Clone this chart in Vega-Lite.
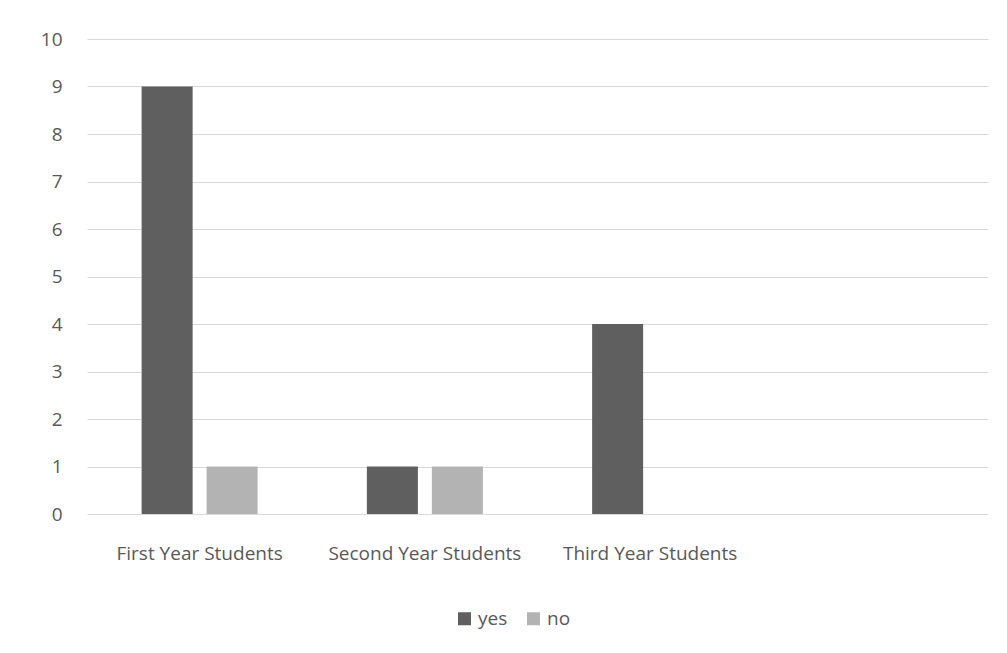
{
  "$schema": "https://vega.github.io/schema/vega-lite/v6.json",
  "width": 901,
  "height": 475,
  "autosize": {"type": "none"},
  "padding": {"left": 87, "top": 39, "right": 19, "bottom": 139},
  "background": "white",
  "data": {
    "values": [
      {"category": "First Year Students", "answer": "yes", "count": 9},
      {"category": "First Year Students", "answer": "no", "count": 1},
      {"category": "Second Year Students", "answer": "yes", "count": 1},
      {"category": "Second Year Students", "answer": "no", "count": 1},
      {"category": "Third Year Students", "answer": "yes", "count": 4},
      {"category": "Third Year Students", "answer": "no", "count": 0}
    ]
  },
  "mark": {"type": "bar"},
  "encoding": {
    "x": {
      "field": "category",
      "type": "nominal",
      "sort": null,
      "scale": {
        "domain": ["First Year Students", "Second Year Students", "Third Year Students", " "],
        "paddingInner": 0.485,
        "paddingOuter": 0.2425
      },
      "axis": {
        "title": null,
        "labelAngle": 0,
        "ticks": false,
        "domain": false,
        "labelPadding": 30,
        "labelLimit": 0,
        "labelOverlap": false,
        "labelFont": "Open Sans",
        "labelFontSize": 19,
        "labelColor": "#595959"
      }
    },
    "xOffset": {
      "field": "answer",
      "type": "nominal",
      "sort": ["yes", "no"],
      "scale": {"paddingInner": 0.215, "paddingOuter": 0}
    },
    "y": {
      "field": "count",
      "type": "quantitative",
      "scale": {"domain": [0, 10], "nice": false},
      "axis": {
        "title": null,
        "values": [0, 1, 2, 3, 4, 5, 6, 7, 8, 9, 10],
        "ticks": false,
        "domain": false,
        "grid": true,
        "gridColor": "#d9d9d9",
        "gridWidth": 1,
        "labelPadding": 25,
        "labelFont": "Open Sans",
        "labelFontSize": 19,
        "labelColor": "#595959"
      }
    },
    "color": {
      "field": "answer",
      "type": "nominal",
      "sort": ["yes", "no"],
      "scale": {"domain": ["yes", "no"], "range": ["#5f5f5f", "#b3b3b3"]},
      "legend": {
        "title": null,
        "orient": "none",
        "direction": "horizontal",
        "legendX": 368,
        "legendY": 570,
        "symbolType": "square",
        "symbolSize": 169,
        "symbolStrokeWidth": 0,
        "symbolOpacity": 1,
        "labelFont": "Open Sans",
        "labelFontSize": 19,
        "labelColor": "#595959",
        "labelOffset": 4,
        "columnPadding": 16
      }
    }
  },
  "config": {
    "view": {"stroke": null}
  }
}
